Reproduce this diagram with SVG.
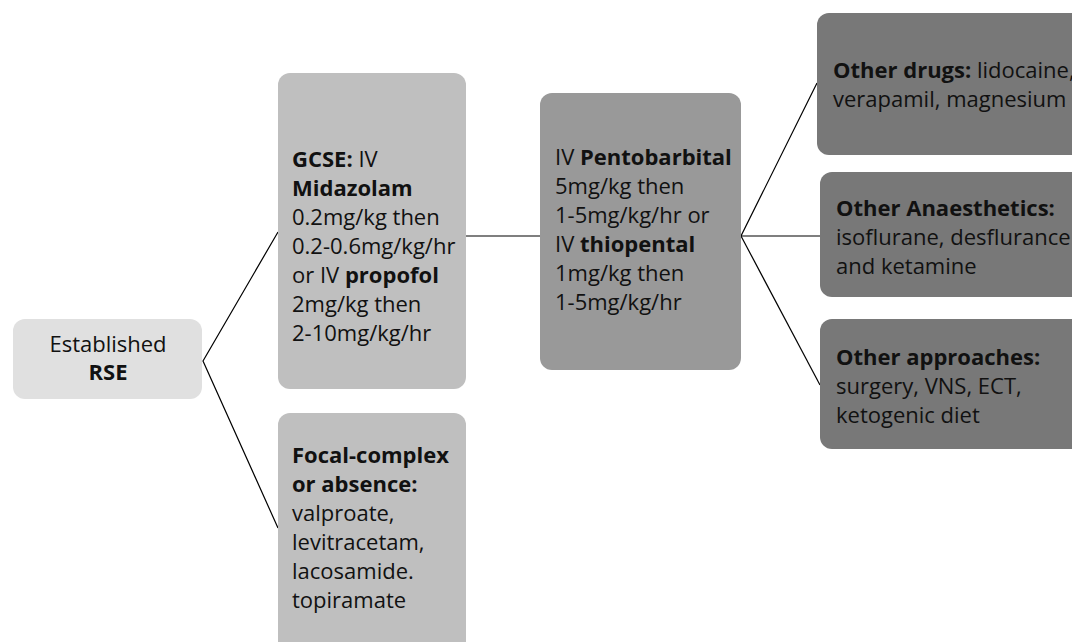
<svg xmlns="http://www.w3.org/2000/svg" width="1072" height="642" viewBox="0 0 1072 642">
<style>
text{font-family:"Open Sans","Noto Sans",sans-serif;font-size:22px;fill:#111}
.b{font-weight:bold}
.c{fill:none;stroke:#000;stroke-width:1.2}
.n1{fill:#e0e0e0}
.n2{fill:#bfbfbf}
.n3{fill:#999999}
.n4{fill:#787878}
</style>
<rect width="1072" height="642" fill="#fff"/>
<g id="connectors">
<polyline class="c" points="278,232 203,361 278,528"/>
<line class="c" x1="466" y1="236" x2="540" y2="236"/>
<polyline class="c" points="817,83 741,236 820,236"/>
<line class="c" x1="741" y1="236" x2="820" y2="385"/>
</g>
<g id="rse">
<rect class="n1" x="13" y="319" width="189" height="80" rx="12"/>
<text x="108" y="352" text-anchor="middle">Established</text>
<text x="108" y="380" text-anchor="middle" class="b">RSE</text>
</g>
<g id="gcse">
<rect class="n2" x="278" y="73" width="188" height="316" rx="12"/>
<text x="292" y="167"><tspan class="b">GCSE:</tspan> IV</text>
<text x="292" y="196" class="b">Midazolam</text>
<text x="292" y="225">0.2mg/kg then</text>
<text x="292" y="254">0.2-0.6mg/kg/hr</text>
<text x="292" y="283">or IV <tspan class="b">propofol</tspan></text>
<text x="292" y="312">2mg/kg then</text>
<text x="292" y="341">2-10mg/kg/hr</text>
</g>
<g id="focal">
<rect class="n2" x="278" y="413" width="188" height="240" rx="12"/>
<text x="292" y="463" class="b">Focal-complex</text>
<text x="292" y="492" class="b">or absence:</text>
<text x="292" y="521">valproate,</text>
<text x="292" y="550">levitracetam,</text>
<text x="292" y="579">lacosamide.</text>
<text x="292" y="608">topiramate</text>
</g>
<g id="pento">
<rect class="n3" x="540" y="93" width="201" height="277" rx="12"/>
<text x="555" y="165">IV <tspan class="b">Pentobarbital</tspan></text>
<text x="555" y="194">5mg/kg then</text>
<text x="555" y="223">1-5mg/kg/hr or</text>
<text x="555" y="252">IV <tspan class="b">thiopental</tspan></text>
<text x="555" y="281">1mg/kg then</text>
<text x="555" y="310">1-5mg/kg/hr</text>
</g>
<g id="drugs">
<rect class="n4" x="817" y="13" width="275" height="142" rx="12"/>
<text x="833" y="78"><tspan class="b">Other drugs:</tspan> lidocaine,</text>
<text x="833" y="107">verapamil, magnesium</text>
</g>
<g id="anaesthetics">
<rect class="n4" x="820" y="172" width="272" height="125" rx="12"/>
<text x="836" y="216" class="b">Other Anaesthetics:</text>
<text x="836" y="245">isoflurane, desflurance</text>
<text x="836" y="274">and ketamine</text>
</g>
<g id="approaches">
<rect class="n4" x="820" y="319" width="272" height="130" rx="12"/>
<text x="836" y="365" class="b">Other approaches:</text>
<text x="836" y="394">surgery, VNS, ECT,</text>
<text x="836" y="423">ketogenic diet</text>
</g>
</svg>
